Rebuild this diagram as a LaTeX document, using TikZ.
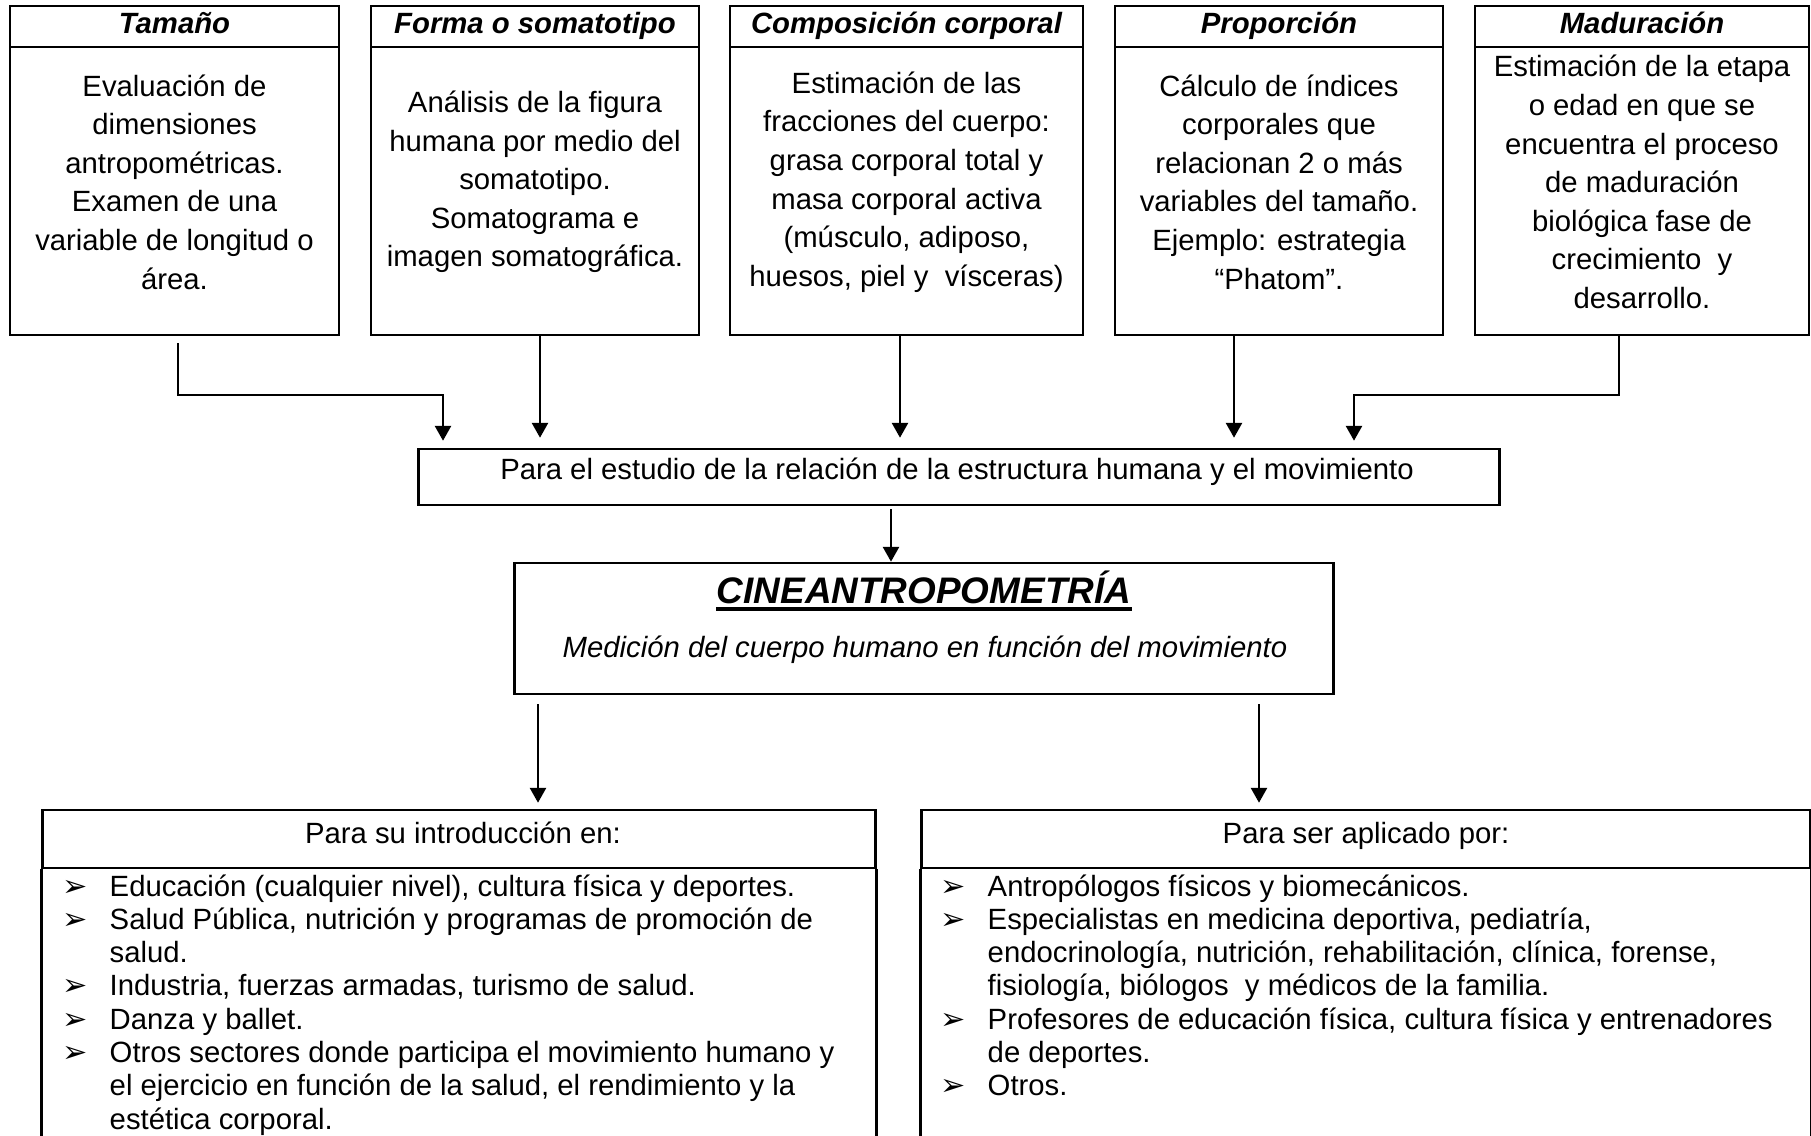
\documentclass[tikz,border=0pt]{standalone}
\usepackage{fontspec}
\setmainfont{Liberation Sans}
\newfontfamily\dejavu{DejaVu Sans}
\usetikzlibrary{arrows.meta}
\newcommand{\bodyfont}{\fontsize{8.33pt}{10.97pt}\selectfont}
\newcommand{\listfont}{\fontsize{8.33pt}{9.47pt}\selectfont}
\newcommand{\bul}{\makebox[0.47cm][l]{\dejavu\fontsize{8.6pt}{8.6pt}\selectfont ➢}}

\begin{document}
\begin{tikzpicture}[x=0.01cm,y=-0.01cm,
  frame/.style={draw, line width=0.75pt, inner sep=0pt, rectangle},
  edge/.style={draw, line width=0.75pt},
  conn/.style={line width=0.5pt, -{Triangle[length=4.2pt,width=4.6pt]}},
  hd/.style={font=\bodyfont\bfseries\itshape, inner sep=0pt, anchor=base},
  txt/.style={font=\bodyfont, align=center, inner sep=0pt, anchor=center},
  one/.style={font=\bodyfont, inner sep=0pt, anchor=base}
]
\useasboundingbox (0,0) rectangle (1811,1135);

% ---------- top boxes ----------
\node[frame, minimum width=3.29cm, minimum height=0.41cm] (h1) at (174.5,26.5) {};
\node[frame, minimum width=3.29cm, minimum height=2.88cm] (b1) at (174.5,191) {};
\node[frame, minimum width=3.28cm, minimum height=0.41cm] (h2) at (535,26.5) {};
\node[frame, minimum width=3.28cm, minimum height=2.88cm] (b2) at (535,191) {};
\node[frame, minimum width=3.53cm, minimum height=0.41cm] (h3) at (906.5,26.5) {};
\node[frame, minimum width=3.53cm, minimum height=2.88cm] (b3) at (906.5,191) {};
\node[frame, minimum width=3.28cm, minimum height=0.41cm] (h4) at (1279,26.5) {};
\node[frame, minimum width=3.28cm, minimum height=2.88cm] (b4) at (1279,191) {};
\node[frame, minimum width=3.34cm, minimum height=0.41cm] (h5) at (1642,26.5) {};
\node[frame, minimum width=3.34cm, minimum height=2.88cm] (b5) at (1642,191) {};

\node[hd] (h1t) at (174.5,33) {Tamaño};
\node[hd] (h2t) at (535,33) {Forma o somatotipo};
\node[hd] (h3t) at (906.5,33) {Composición corporal};
\node[hd] (h4t) at (1279,33) {Proporción};
\node[hd] (h5t) at (1642,33) {Maduración};

\node[txt] (b1t) at (174.5,182) {Evaluación de\\dimensiones\\antropométricas.\\Examen de una\\variable de longitud o\\área.};
\node[txt] (b2t) at (535,182) {Análisis de la figura\\humana por medio del\\somatotipo.\\Somatograma e\\imagen somatográfica.};
\node[txt] (b3t) at (906.5,182) {Estimación de las\\fracciones del cuerpo:\\grasa corporal total y\\masa corporal activa\\(músculo, adiposo,\\huesos, piel y\ \ vísceras)};
\node[txt] (b4t) at (1279,182) {Cálculo de índices\\corporales que\\relacionan 2 o más\\variables del tamaño.\\Ejemplo: estrategia\\“Phatom”.};
\node[txt] (b5t) at (1642,182) {Estimación de la etapa\\o edad en que se\\encuentra el proceso\\de maduración\\biológica fase de\\crecimiento\ \ y\\desarrollo.};

% ---------- middle box ----------
\node[frame, minimum width=10.80cm, minimum height=0.56cm] (mid) at (959,477) {};
\node[one] (midt) at (957,479) {Para el estudio de la relación de la estructura humana y el movimiento};

% ---------- CINEANTROPOMETRIA ----------
\node[frame, minimum width=8.18cm, minimum height=1.31cm] (cine) at (924,628.5) {};
\node[inner sep=0pt, anchor=base, font=\fontsize{10.5pt}{12pt}\selectfont\bfseries\itshape] (cinet) at (924,603) {CINEANTROPOMETRÍA};
\draw[line width=1.1pt] ([yshift=-1.7pt]cinet.base west) -- ([yshift=-1.7pt]cinet.base east);
\node[one, font=\bodyfont\itshape] (cines) at (925,657) {Medición del cuerpo humano en función del movimiento};

% ---------- bottom boxes ----------
\node[frame, minimum width=8.32cm, minimum height=0.58cm] (lh) at (459,839) {};
\node[frame, minimum width=8.88cm, minimum height=0.58cm] (rh) at (1366,839) {};
\coordinate (bot) at (0,1140);
\draw[edge] (lh.south west) -- (lh.south west |- bot);
\draw[edge] (lh.south east) -- (lh.south east |- bot);
\draw[edge] (rh.south west) -- (rh.south west |- bot);
\draw[edge] (rh.south east) -- (rh.south east |- bot);

\node[one] (lht) at (463,843) {Para su introducción en:};
\node[one] (rht) at (1366,843) {Para ser aplicado por:};

\node[anchor=base west, inner sep=0pt, font=\listfont] (ll) at (62,896) {%
\begin{tabular}[t]{@{}l@{}l@{}}
\bul & Educación (cualquier nivel), cultura física y deportes.\\
\bul & Salud Pública, nutrición y programas de promoción de\\
 & salud.\\
\bul & Industria, fuerzas armadas, turismo de salud.\\
\bul & Danza y ballet.\\
\bul & Otros sectores donde participa el movimiento humano y\\
 & el ejercicio en función de la salud, el rendimiento y la\\
 & estética corporal.
\end{tabular}};

\node[anchor=base west, inner sep=0pt, font=\listfont] (rl) at (940,896) {%
\begin{tabular}[t]{@{}l@{}l@{}}
\bul & Antropólogos físicos y biomecánicos.\\
\bul & Especialistas en medicina deportiva, pediatría,\\
 & endocrinología, nutrición, rehabilitación, clínica, forense,\\
 & fisiología, biólogos\ \ y médicos de la familia.\\
\bul & Profesores de educación física, cultura física y entrenadores\\
 & de deportes.\\
\bul & Otros.
\end{tabular}};

% ---------- connectors ----------
\coordinate (x1) at (178,0);
\coordinate (x2) at (540,0);
\coordinate (x3) at (900,0);
\coordinate (x4) at (1234,0);
\coordinate (x5) at (1619,0);
\coordinate (j1) at (443,395);
\coordinate (j5) at (1354,395);
\coordinate (xm) at (891,0);
\coordinate (xl) at (538,0);
\coordinate (xr) at (1259,0);

\draw[conn, shorten <=0.07cm, shorten >=0.07cm] (b1.south -| x1) |- (j1) -- (j1 |- mid.north);
\draw[conn, shorten >=0.1cm] (b2.south -| x2) -- (mid.north -| x2);
\draw[conn, shorten >=0.1cm] (b3.south -| x3) -- (mid.north -| x3);
\draw[conn, shorten >=0.1cm] (b4.south -| x4) -- (mid.north -| x4);
\draw[conn, shorten >=0.07cm] (b5.south -| x5) |- (j5) -- (j5 |- mid.north);
\draw[conn, shorten <=0.03cm] (mid.south -| xm) -- (cine.north -| xm);
\draw[conn, shorten <=0.09cm, shorten >=0.06cm] (cine.south -| xl) -- (lh.north -| xl);
\draw[conn, shorten <=0.09cm, shorten >=0.06cm] (cine.south -| xr) -- (rh.north -| xr);
\end{tikzpicture}
\end{document}
